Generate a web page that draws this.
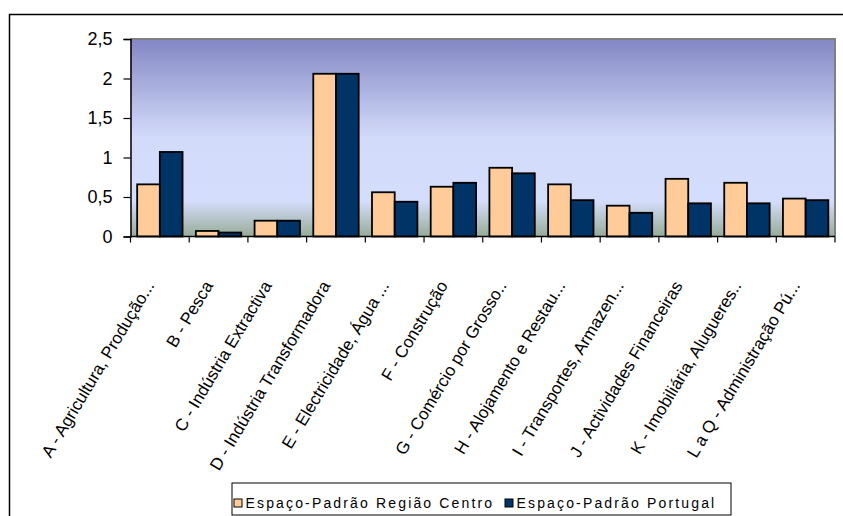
<!DOCTYPE html>
<html>
<head>
<meta charset="utf-8">
<script src="https://cdn.jsdelivr.net/npm/d3@7"></script>
<style>
  body { margin: 0; background: #fff; }
  svg { display: block; font-family: "Liberation Sans", Arial, sans-serif; }
</style>
</head>
<body>
<div id="chart"></div>
<script>
// data
var categories = [
  "A - Agricultura, Produção...",
  "B - Pesca",
  "C - Indústria Extractiva",
  "D - Indústria Transformadora",
  "E - Electricidade, Água ...",
  "F - Construção",
  "G - Comércio por Grosso..",
  "H - Alojamento e Restau...",
  "I - Transportes, Armazen...",
  "J - Actividades Financeiras",
  "K - Imobiliária, Alugueres..",
  "L a Q - Administração Pú..."
];
var seriesNames = ["Espaço-Padrão Região Centro", "Espaço-Padrão Portugal"];
var regiaoCentro = [0.66, 0.07, 0.2, 2.06, 0.56, 0.63, 0.87, 0.66, 0.39, 0.73, 0.68, 0.48];
var portugal = [1.07, 0.05, 0.2, 2.06, 0.44, 0.68, 0.8, 0.46, 0.3, 0.42, 0.42, 0.46];
var yTicks = [0, 0.5, 1, 1.5, 2, 2.5];
var seriesColors = ["#ffcc99", "#003366"];

var width = 843,
  height = 516;
var plot = { left: 130.5, right: 835, top: 39, bottom: 236.5 };

var svg = d3
  .select("#chart")
  .append("svg")
  .attr("width", width)
  .attr("height", height);

// outer frame (only the left and top edges are inside the window)
svg
  .append("path")
  .attr("d", "M9.5," + height + "V14.5H" + width)
  .attr("fill", "none")
  .attr("stroke", "#000")
  .attr("stroke-width", 1.5);

var grad = svg
  .append("defs")
  .append("linearGradient")
  .attr("id", "plotBg")
  .attr("x1", 0)
  .attr("y1", 0)
  .attr("x2", 0)
  .attr("y2", 1);
[
  [0, "#8387c4"],
  [0.5, "#d3dbfa"],
  [0.82, "#d5ddfc"],
  [1, "#96ac97"]
].forEach(function(s) {
  grad
    .append("stop")
    .attr("offset", s[0])
    .attr("stop-color", s[1]);
});

var x0 = d3
  .scaleBand()
  .domain(categories)
  .range([plot.left, plot.right])
  .paddingInner(0.227)
  .paddingOuter(0.1135);
var x1 = d3
  .scaleBand()
  .domain(seriesNames)
  .range([0, x0.bandwidth()]);
var y = d3
  .scaleLinear()
  .domain([0, 2.5])
  .range([plot.bottom, plot.top]);

svg
  .append("rect")
  .attr("x", plot.left)
  .attr("y", plot.top)
  .attr("width", plot.right - plot.left)
  .attr("height", plot.bottom - plot.top)
  .attr("fill", "url(#plotBg)");

// grey border on top and right of the plot area
svg
  .append("path")
  .attr("d", "M" + plot.left + "," + plot.top + "H" + plot.right + "V" + plot.bottom)
  .attr("fill", "none")
  .attr("stroke", "#808080")
  .attr("stroke-width", 2);

var rows = categories.map(function(c, i) {
  return { cat: c, values: [regiaoCentro[i], portugal[i]] };
});

svg
  .selectAll("g.group")
  .data(rows)
  .enter()
  .append("g")
  .attr("class", "group")
  .attr("transform", function(d) {
    return "translate(" + x0(d.cat) + ",0)";
  })
  .selectAll("rect")
  .data(function(d) {
    return d.values.map(function(v, j) {
      return { name: seriesNames[j], value: v, color: seriesColors[j] };
    });
  })
  .enter()
  .append("rect")
  .attr("x", function(d) {
    return x1(d.name);
  })
  .attr("y", function(d) {
    return y(d.value);
  })
  .attr("width", x1.bandwidth())
  .attr("height", function(d) {
    return y(0) - y(d.value);
  })
  .attr("fill", function(d) {
    return d.color;
  })
  .attr("stroke", "#000")
  .attr("stroke-width", 1.8);

// y axis
var yAxis = svg
  .append("g")
  .attr("transform", "translate(" + plot.left + ",0)")
  .call(
    d3
      .axisLeft(y)
      .tickValues(yTicks)
      .tickSize(7)
      .tickPadding(11)
      .tickFormat(function(d) {
        return String(d).replace(".", ",");
      })
  );
yAxis.select(".domain").attr("stroke", "#000").attr("stroke-width", 1.5);
yAxis.selectAll(".tick line").attr("stroke", "#000").attr("stroke-width", 1.2);
yAxis
  .selectAll(".tick text")
  .attr("font-size", 18)
  .attr("fill", "#000")
  .attr("font-family", "Liberation Sans, Arial, sans-serif");

// x axis: ticks between categories
var step = x0.step();
var boundaries = categories.map(function(c) {
  return x0(c) - (step - x0.bandwidth()) / 2;
});
boundaries.push(plot.right);

svg
  .append("line")
  .attr("x1", plot.left)
  .attr("x2", plot.right)
  .attr("y1", plot.bottom)
  .attr("y2", plot.bottom)
  .attr("stroke", "#000")
  .attr("stroke-width", 1.5);

svg
  .selectAll("line.xtick")
  .data(boundaries)
  .enter()
  .append("line")
  .attr("class", "xtick")
  .attr("x1", function(d) {
    return d;
  })
  .attr("x2", function(d) {
    return d;
  })
  .attr("y1", plot.bottom)
  .attr("y2", plot.bottom + 6)
  .attr("stroke", "#000")
  .attr("stroke-width", 1.2);

svg
  .selectAll("text.xlabel")
  .data(categories)
  .enter()
  .append("text")
  .attr("class", "xlabel")
  .attr("text-anchor", "end")
  .attr("font-size", 17)
  .attr("transform", function(d) {
    var cx = x0(d) + x0.bandwidth() / 2 - 5;
    return "translate(" + cx + "," + (plot.bottom + 49) + ") rotate(-59)";
  })
  .text(function(d) {
    return d;
  });

// legend
var legend = svg.append("g").attr("transform", "translate(232,483)");
legend
  .append("rect")
  .attr("x", 0)
  .attr("y", 0)
  .attr("width", 499)
  .attr("height", 32)
  .attr("fill", "#fff")
  .attr("stroke", "#000")
  .attr("stroke-width", 1);

var legendX = [2, 273];
seriesNames.forEach(function(name, i) {
  legend
    .append("rect")
    .attr("x", legendX[i])
    .attr("y", 16)
    .attr("width", 8)
    .attr("height", 8)
    .attr("fill", seriesColors[i])
    .attr("stroke", "#000")
    .attr("stroke-width", 1);
  legend
    .append("text")
    .attr("x", legendX[i] + 11.5)
    .attr("y", 24.5)
    .attr("font-size", 14)
    .attr("letter-spacing", 2.15)
    .text(name);
});
</script>
</body>
</html>
